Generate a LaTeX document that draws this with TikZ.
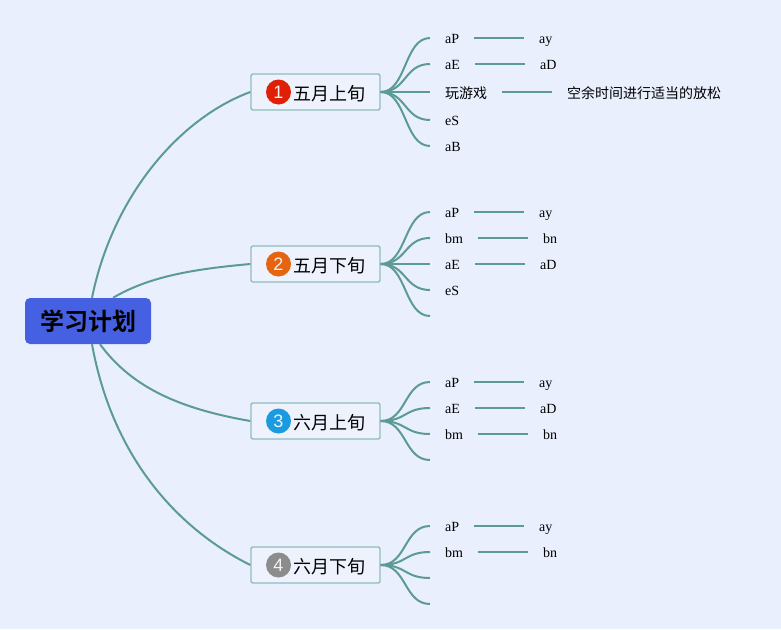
\documentclass[tikz,border=0pt]{standalone}
\usepackage{fontspec}
\setmainfont{Liberation Serif}
\newfontfamily\cjkfont{Noto Sans CJK SC}
\newfontfamily\cjkbold{Noto Sans CJK SC Bold}
\newfontfamily\numfont{Liberation Sans}
\definecolor{bgc}{HTML}{E9EFFD}
\definecolor{linec}{HTML}{5C9A96}
\definecolor{rootc}{HTML}{4560E0}
\definecolor{boxc}{HTML}{8FBDBF}
\definecolor{boxf}{HTML}{EDF2FD}
\definecolor{redc}{HTML}{E02006}
\definecolor{orac}{HTML}{E5640F}
\definecolor{bluc}{HTML}{1A9BE0}
\definecolor{grac}{HTML}{8C8C8C}
\tikzset{
  rootnode/.style={fill=rootc,rounded corners=5pt,minimum width=126pt,minimum height=46pt,inner sep=0pt,font=\cjkbold\fontsize{24}{26}\selectfont,text=black},
  topic/.style={draw=boxc,fill=boxf,line width=1.4pt,rounded corners=2pt,minimum width=129pt,minimum height=36pt,inner sep=0pt},
  toptext/.style={inner sep=0pt,anchor=west,font=\cjkfont\fontsize{18}{20}\selectfont,text=black},
  badge/.style={circle,minimum size=25pt,inner sep=0pt,text=white!90!gray,font=\numfont\fontsize{18}{18}\selectfont},
  leaf/.style={anchor=west,inner xsep=15pt,inner ysep=0pt,text height=14pt,text depth=2.5pt,font=\fontsize{14}{16}\selectfont,text=black},
  cjkleaf/.style={leaf,text height=15pt,text depth=2pt,font=\cjkfont\fontsize{14}{16}\selectfont},
  conn/.style={draw=linec,line width=2pt},
  thin conn/.style={draw=linec,line width=1.9pt}
}
\newcommand{\fan}[2]{\draw[conn] (#1.east) .. controls +(26pt,0pt) and ($(#2.west)+(-26pt,0pt)$) .. (#2.west);}
\usetikzlibrary{calc}
\begin{document}
\begin{tikzpicture}[x=1pt,y=-1pt]
\useasboundingbox[fill=bgc] (0,0) rectangle (781,629);
% root and topics
\node[rootnode] (root) at (88,321) {\raisebox{-1.5pt}{学习计划}};
\node[topic] (t1) at (315.5,92) {};
\node[topic] (t2) at (315.5,264) {};
\node[topic] (t3) at (315.5,421) {};
\node[topic] (t4) at (315.5,565) {};
\node[badge,fill=redc] (b1) at (278.5,92) {1};
\node[badge,fill=orac] (b2) at (278.5,264) {2};
\node[badge,fill=bluc] (b3) at (278.5,421) {3};
\node[badge,fill=grac] (b4) at (278.5,565) {4};
\node[toptext] (x1) at (293.5,94) {五月上旬};
\node[toptext] (x2) at (293.5,266) {五月下旬};
\node[toptext] (x3) at (293.5,423) {六月上旬};
\node[toptext] (x4) at (293.5,567) {六月下旬};
% root connectors
\draw[conn] ([xshift=4pt]root.north) .. controls (113,195) and (180,118) .. (t1.west);
\draw[conn] ([xshift=25pt]root.north) .. controls (150,276) and (195,269) .. (t2.west);
\draw[conn] ([xshift=12pt]root.south) .. controls (130,385) and (175,408) .. (t3.west);
\draw[conn] ([xshift=4pt]root.south) .. controls (113,460) and (180,530) .. (t4.west);
% branch 1
\node[leaf] (a1) at (430,38) {aP};
\node[leaf] (a1v) at (524,38) {ay};
\node[leaf] (a2) at (430,64) {aE};
\node[leaf] (a2v) at (525,64) {aD};
\node[cjkleaf] (a3) at (430,92) {玩游戏};
\node[cjkleaf] (a3v) at (552,92) {空余时间进行适当的放松};
\node[leaf] (a4) at (430,120) {eS};
\node[leaf] (a5) at (430,146) {aB};
\foreach \n in {a1,a2,a3,a4,a5} {\fan{t1}{\n}}
\draw[thin conn] (a1.east) -- (a1v.west);
\draw[thin conn] (a2.east) -- (a2v.west);
\draw[thin conn] (a3.east) -- (a3v.west);
% branch 2
\node[leaf] (c1) at (430,212) {aP};
\node[leaf] (c1v) at (524,212) {ay};
\node[leaf] (c2) at (430,238) {bm};
\node[leaf] (c2v) at (528,238) {bn};
\node[leaf] (c3) at (430,264) {aE};
\node[leaf] (c3v) at (525,264) {aD};
\node[leaf] (c4) at (430,290) {eS};
\node[leaf,inner xsep=0pt] (c5) at (430,316) {};
\foreach \n in {c1,c2,c3,c4,c5} {\fan{t2}{\n}}
\draw[thin conn] (c1.east) -- (c1v.west);
\draw[thin conn] (c2.east) -- (c2v.west);
\draw[thin conn] (c3.east) -- (c3v.west);
% branch 3
\node[leaf] (d1) at (430,382) {aP};
\node[leaf] (d1v) at (524,382) {ay};
\node[leaf] (d2) at (430,408) {aE};
\node[leaf] (d2v) at (525,408) {aD};
\node[leaf] (d3) at (430,434) {bm};
\node[leaf] (d3v) at (528,434) {bn};
\node[leaf,inner xsep=0pt] (d4) at (430,460) {};
\foreach \n in {d1,d2,d3,d4} {\fan{t3}{\n}}
\draw[thin conn] (d1.east) -- (d1v.west);
\draw[thin conn] (d2.east) -- (d2v.west);
\draw[thin conn] (d3.east) -- (d3v.west);
% branch 4
\node[leaf] (e1) at (430,526) {aP};
\node[leaf] (e1v) at (524,526) {ay};
\node[leaf] (e2) at (430,552) {bm};
\node[leaf] (e2v) at (528,552) {bn};
\node[leaf,inner xsep=0pt] (e3) at (430,578) {};
\node[leaf,inner xsep=0pt] (e4) at (430,604) {};
\foreach \n in {e1,e2,e3,e4} {\fan{t4}{\n}}
\draw[thin conn] (e1.east) -- (e1v.west);
\draw[thin conn] (e2.east) -- (e2v.west);
\end{tikzpicture}
\end{document}
